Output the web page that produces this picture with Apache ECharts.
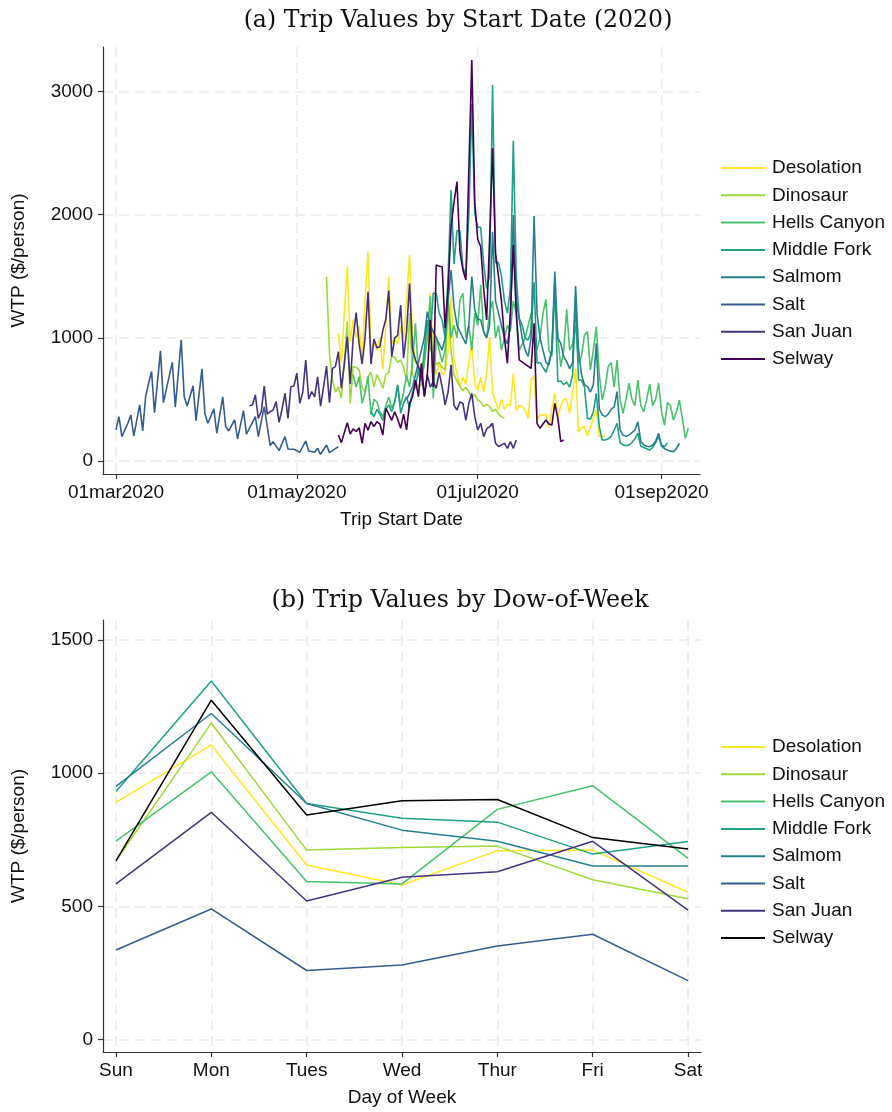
<!DOCTYPE html>
<html><head><meta charset="utf-8">
<script src="https://cdn.jsdelivr.net/npm/echarts@6/dist/echarts.min.js"></script>
<style>html,body{margin:0;padding:0;background:#fff}#top,#bot{width:892px;height:556px}</style>
</head><body><div id="top"></div><div id="bot"></div>
<script>
// ---------- DATA ----------
// Panel (a): [days since 01mar2020, WTP $/person]
const seriesNames = ['Desolation','Dinosaur','Hells Canyon','Middle Fork','Salmom','Salt','San Juan','Selway'];
const dateTickDays = [0, 61, 122, 184];
const dateTickLabels = ['01mar2020','01may2020','01jul2020','01sep2020'];
const wtpTicksA = [0, 1000, 2000, 3000];

const desolation = [[75,1036],[76,793],[77,1200],[78,1577],[79,968],[80,1150],[81,1000],[82,1100],[83,820],[84,1300],[85,1699],[86,900],[87,960],[88,900],[89,1000],[90,744],[91,1100],[92,1496],[93,950],[94,1000],[95,950],[96,1090],[97,1000],[98,1300],[99,1672],[100,1000],[101,793],[102,780],[103,760],[104,820],[105,1000],[106,1361],[107,820],[108,700],[109,800],[110,700],[111,720],[112,900],[113,1334],[114,820],[115,712],[116,603],[117,680],[118,620],[119,800],[120,955],[121,620],[122,576],[123,680],[124,560],[125,700],[126,1009],[127,560],[128,480],[129,414],[130,500],[131,420],[132,460],[133,450],[134,712],[135,414],[136,450],[137,440],[138,414],[139,346],[140,657],[141,690],[142,333],[143,380],[144,370],[145,380],[146,273],[147,420],[148,549],[149,354],[150,450],[151,501],[152,500],[153,387],[154,550],[155,757],[156,238],[157,270],[158,280],[159,203],[160,270],[161,350],[162,414],[163,198],[164,200],[165,203]];
const dinosaur = [[71,1496],[72,874],[73,657],[74,560],[75,603],[76,509],[77,800],[78,1131],[79,468],[80,766],[81,760],[82,739],[83,600],[84,560],[85,684],[86,720],[87,600],[88,700],[89,650],[90,590],[91,700],[92,720],[93,852],[94,840],[95,800],[96,820],[97,760],[98,644],[99,1200],[100,700],[101,650],[102,600],[103,620],[104,800],[105,1090],[106,900],[107,874],[108,780],[109,800],[110,760],[111,739],[112,1252],[113,900],[114,700],[115,650],[116,603],[117,570],[118,600],[119,560],[120,509],[121,540],[122,495],[123,480],[124,441],[125,460],[126,441],[127,400],[128,420],[129,380],[130,360],[131,346]];
const hellsCanyon = [[80,700],[81,600],[82,684],[83,468],[84,550],[85,684],[86,374],[87,500],[88,480],[89,400],[90,360],[91,450],[92,520],[93,430],[94,480],[95,617],[96,450],[97,560],[98,698],[99,600],[100,800],[101,1118],[102,700],[103,650],[104,800],[105,1000],[106,1334],[107,509],[108,1009],[109,900],[110,800],[111,900],[112,1334],[113,1000],[114,1100],[115,1000],[116,1307],[117,1361],[118,1000],[119,1100],[120,900],[121,1200],[122,1100],[123,1429],[124,1050],[125,1000],[126,1200],[127,1300],[128,1000],[129,1100],[130,900],[131,1000],[132,1100],[133,1050],[134,1300],[135,1200],[136,900],[137,950],[138,1000],[139,1100],[140,1200],[141,1000],[142,900],[143,1000],[144,1199],[145,1312],[146,900],[147,850],[148,1388],[149,1000],[150,766],[151,900],[152,1231],[153,900],[154,950],[155,1100],[156,800],[157,850],[158,1023],[159,1050],[160,739],[161,900],[162,1090],[163,700],[164,495],[165,600],[166,766],[167,800],[168,600],[169,820],[170,500],[171,387],[172,500],[173,631],[174,500],[175,450],[176,657],[177,450],[178,400],[179,500],[180,625],[181,450],[182,500],[183,631],[184,400],[185,292],[186,474],[187,450],[188,333],[189,400],[190,495],[191,350],[192,184],[193,265]];
const middleFork = [[86,400],[87,360],[88,420],[89,380],[90,330],[91,420],[92,455],[93,400],[94,480],[95,617],[96,387],[97,470],[98,522],[99,430],[100,560],[101,600],[102,739],[103,650],[104,900],[105,1144],[106,1000],[107,1361],[108,1361],[109,1200],[110,1144],[111,1000],[112,1500],[113,2200],[114,1600],[115,1869],[116,1869],[117,1577],[118,1500],[119,2000],[120,2900],[121,2010],[122,1897],[123,1897],[124,1600],[125,1400],[126,1500],[127,3052],[128,1610],[129,1610],[130,1500],[131,1300],[132,1200],[133,1400],[134,2600],[135,1500],[136,1158],[137,1100],[138,1000],[139,982],[140,1050],[141,1450],[142,793],[143,800],[144,760],[145,720],[146,800],[147,900],[148,1450],[149,644],[150,650],[151,620],[152,640],[153,600],[154,700],[155,1300],[156,657],[157,657],[158,600],[159,346],[160,340],[161,400],[162,549],[163,279],[164,170],[165,170],[166,180],[167,200],[168,250],[169,306],[170,150],[171,130],[172,125],[173,130],[174,150],[175,180],[176,225],[177,120],[178,110],[179,100],[180,89],[181,110],[182,150],[183,198],[184,130],[185,116],[186,149]];
const salmom = [[98,500],[99,550],[100,600],[101,700],[102,800],[103,900],[104,1000],[105,1212],[106,1100],[107,1050],[108,1000],[109,950],[110,900],[111,1000],[112,1300],[113,1550],[114,1250],[115,1100],[116,1050],[117,1000],[118,950],[119,1100],[120,1496],[121,1226],[122,1150],[123,1144],[124,1050],[125,1000],[126,1100],[127,1861],[128,1300],[129,1200],[130,1100],[131,1000],[132,950],[133,1100],[134,1997],[135,1300],[136,1150],[137,1000],[138,900],[139,850],[140,1000],[141,1989],[142,1200],[143,1000],[144,900],[145,800],[146,780],[147,900],[148,1537],[149,1000],[150,955],[151,850],[152,806],[153,750],[154,800],[155,1420],[156,900],[157,700],[158,620],[159,603],[160,560],[161,620],[162,955],[163,420],[164,374],[165,360],[166,380],[167,420],[168,440],[169,563],[170,250],[171,211],[172,200],[173,210],[174,230],[175,250],[176,319],[177,160],[178,130],[179,120],[180,116],[181,130],[182,160],[183,225],[184,120],[185,100],[186,89],[187,80],[188,76],[189,100],[190,144]];
const salt = [[0,252],[1,360],[2,198],[4,306],[5,374],[6,203],[8,455],[9,244],[10,523],[11,631],[12,726],[13,393],[15,894],[16,474],[19,802],[20,436],[22,984],[23,523],[24,447],[26,610],[27,328],[29,748],[30,382],[31,306],[33,423],[34,225],[36,520],[37,279],[38,244],[40,333],[41,179],[43,409],[44,217],[47,360],[48,198],[50,442],[52,125],[53,157],[55,84],[57,198],[58,98],[60,95],[62,71],[64,163],[65,81],[67,71],[68,103],[69,54],[71,130],[72,68],[75,117]];
const sanJuan = [[45,449],[46,455],[47,536],[48,346],[49,400],[50,609],[51,381],[52,400],[53,414],[54,482],[55,314],[56,420],[57,549],[58,346],[59,603],[60,609],[61,712],[62,468],[63,560],[64,820],[65,501],[66,563],[67,520],[68,684],[69,446],[70,600],[71,771],[72,474],[73,752],[74,766],[75,887],[76,590],[77,787],[78,1009],[79,625],[80,1000],[81,1204],[82,950],[83,787],[84,1000],[85,1374],[86,787],[87,990],[88,920],[89,928],[90,1060],[91,1150],[92,1383],[93,847],[94,1000],[95,1020],[96,1266],[97,834],[98,1050],[99,1440],[100,907],[101,820],[102,766],[103,700],[104,528],[105,700],[106,600],[107,644],[108,590],[109,720],[110,600],[111,455],[112,560],[113,780],[114,450],[115,414],[116,480],[117,468],[118,330],[119,468],[120,549],[121,360],[122,252],[123,306],[124,198],[125,260],[126,279],[127,306],[128,144],[129,117],[131,144],[132,103],[133,157],[134,103],[135,170]];
const selway = [[75,211],[76,149],[77,230],[78,311],[79,219],[80,260],[81,240],[82,270],[83,144],[84,306],[85,250],[86,320],[87,280],[88,319],[89,300],[90,211],[91,428],[92,380],[93,330],[94,400],[95,340],[96,265],[97,380],[98,252],[99,468],[100,520],[101,657],[102,522],[103,793],[104,522],[105,700],[106,1144],[107,600],[108,1591],[109,1580],[110,1577],[111,1077],[112,1400],[113,1900],[114,2100],[115,2267],[116,1700],[117,1550],[118,1469],[120,3255],[121,2100],[122,1800],[123,1740],[124,1400],[125,1144],[126,1800],[127,2538],[128,1686],[129,1500],[130,1300],[131,1000],[132,793],[133,1200],[134,1753],[135,1200],[136,820],[140,752],[141,1118],[142,306],[143,265],[144,300],[145,333],[146,300],[147,292],[148,468],[149,350],[150,157],[151,170]];

// Panel (b): mean WTP by day of week
const dowLabels = ['Sun','Mon','Tues','Wed','Thur','Fri','Sat'];
const wtpTicksB = [0, 500, 1000, 1500];
const desolationDow  = [890, 1106, 655, 580, 709, 711, 553];
const dinosaurDow    = [671, 1188, 711, 721, 726, 600, 528];
const hellsCanyonDow = [745, 1005, 593, 584, 864, 953, 680];
const middleForkDow  = [931, 1346, 886, 831, 816, 696, 743];
const salmomDow      = [950, 1224, 886, 786, 744, 651, 651];
const saltDow        = [336, 490, 259, 280, 351, 395, 221];
const sanJuanDow     = [584, 853, 520, 609, 630, 744, 486];
const selwayDow      = [671, 1274, 843, 896, 901, 758, 715];

// ---------- STYLE ----------
const SANS = 'Liberation Sans, Arial, Helvetica, sans-serif';
const SERIF = 'DejaVu Serif, serif';
const colorsA = ['#fde725','#a0da39','#4ac16d','#1fa187','#277f8e','#365c8d','#46337e','#440154'];
const colorsB = ['#fde725','#a0da39','#4ac16d','#1fa187','#277f8e','#365c8d','#46337e','#000000'];
const gridLine = {show:true, lineStyle:{color:'#ececec', width:1.6, type:[10,6]}};
const axisLineStyle = {show:true, onZero:false, lineStyle:{color:'#333', width:1.2}};
const tickStyle = {show:true, length:5, inside:false, lineStyle:{color:'#333', width:1.2}};
const labelText = {fontFamily:SANS, fontSize:19, color:'#111'};

function legendOpt(top){
  return {orient:'vertical', left:716, top:top, itemWidth:44, itemHeight:2, itemGap:7.3,
    icon:'rect', textStyle:{fontFamily:SANS, fontSize:19, color:'#111', lineHeight:20, padding:[0,0,0,2]},
    data: seriesNames};
}

// ---------- PANEL A ----------
const chartA = echarts.init(document.getElementById('top'), null, {renderer:'canvas'});
const dataA = [desolation, dinosaur, hellsCanyon, middleFork, salmom, salt, sanJuan, selway];
chartA.setOption({
  animation:false,
  title:{text:'(a) Trip Values by Start Date (2020)', left:453, top:4, textAlign:'center',
    textStyle:{fontFamily:SERIF, fontSize:23.6, fontWeight:'normal', color:'#111'}},
  legend: legendOpt(153),
  grid:{left:103, top:47, width:597, height:427, containLabel:false},
  xAxis:{type:'value', min:-4.38, max:196.96,
    name:'Trip Start Date', nameLocation:'middle', nameGap:36,
    nameTextStyle:{fontFamily:SANS, fontSize:19, color:'#111'},
    axisLine:axisLineStyle,
    axisTick:Object.assign({customValues:dateTickDays}, tickStyle),
    axisLabel:Object.assign({customValues:dateTickDays, margin:9,
      formatter:v=>dateTickLabels[dateTickDays.indexOf(Math.round(v))] || ''}, labelText),
    splitLine:gridLine},
  yAxis:{type:'value', min:-105.5, max:3360,
    name:'WTP ($/person)', nameLocation:'middle', nameGap:75, nameRotate:90,
    nameTextStyle:{fontFamily:SANS, fontSize:19, color:'#111'},
    axisLine:axisLineStyle,
    axisTick:Object.assign({customValues:wtpTicksA}, tickStyle),
    axisLabel:Object.assign({customValues:wtpTicksA, margin:10, formatter:v=>String(v)}, labelText),
    splitLine:gridLine},
  series: dataA.map((d,i)=>({name:seriesNames[i], type:'line', data:d, symbol:'none',
    lineStyle:{width:1.6, color:colorsA[i]}, itemStyle:{color:colorsA[i]}, z:2+i}))
});

// ---------- PANEL B ----------
const chartB = echarts.init(document.getElementById('bot'), null, {renderer:'canvas'});
const dataB = [desolationDow, dinosaurDow, hellsCanyonDow, middleForkDow, salmomDow, saltDow, sanJuanDow, selwayDow];
const dowIdx = dowLabels.map((d,i)=>i);
chartB.setOption({
  animation:false,
  title:{text:'(b) Trip Values by Dow-of-Week', left:455, top:28, textAlign:'center',
    textStyle:{fontFamily:SERIF, fontSize:23.8, fontWeight:'normal', color:'#111'}},
  legend: legendOpt(176),
  grid:{left:103, top:64, width:598, height:433, containLabel:false},
  xAxis:{type:'value', min:-0.136, max:6.136,
    name:'Day of Week', nameLocation:'middle', nameGap:36,
    nameTextStyle:{fontFamily:SANS, fontSize:19, color:'#111'},
    axisLine:axisLineStyle,
    axisTick:Object.assign({customValues:dowIdx}, tickStyle),
    axisLabel:Object.assign({customValues:dowIdx, margin:9,
      formatter:v=>dowLabels[Math.round(v)] || ''}, labelText),
    splitLine:gridLine},
  yAxis:{type:'value', min:-47, max:1575,
    name:'WTP ($/person)', nameLocation:'middle', nameGap:75, nameRotate:90,
    nameTextStyle:{fontFamily:SANS, fontSize:19, color:'#111'},
    axisLine:axisLineStyle,
    axisTick:Object.assign({customValues:wtpTicksB}, tickStyle),
    axisLabel:Object.assign({customValues:wtpTicksB, margin:10, formatter:v=>String(v)}, labelText),
    splitLine:gridLine},
  series: dataB.map((vals,i)=>({name:seriesNames[i], type:'line', data:vals.map((v,j)=>[j,v]), symbol:'none',
    lineStyle:{width:1.5, color:colorsB[i]}, itemStyle:{color:colorsB[i]}, z:2+i}))
});
</script></body></html>
